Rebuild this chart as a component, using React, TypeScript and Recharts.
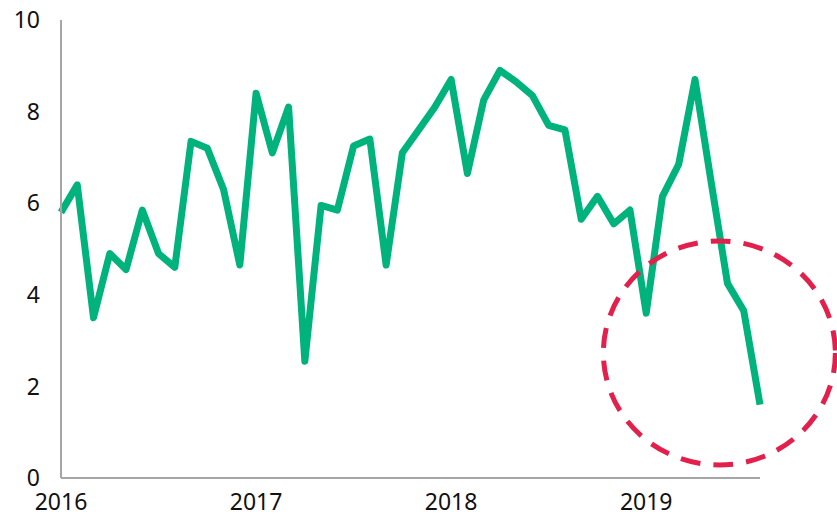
import { LineChart, Line, XAxis, YAxis, ReferenceDot } from 'recharts';

// monthly values, Jan 2016 .. Aug 2019
const values = [
  5.8, 6.4, 3.5, 4.9, 4.55, 5.85, 4.9, 4.6, 7.35, 7.2, 6.3, 4.65,
  8.4, 7.1, 8.1, 2.55, 5.95, 5.85, 7.25, 7.4, 4.65, 7.1, 7.6, 8.1,
  8.7, 6.65, 8.25, 8.9, 8.65, 8.35, 7.7, 7.6, 5.65, 6.15, 5.55, 5.85,
  3.6, 6.15, 6.85, 8.7, 6.45, 4.25, 3.65, 1.6,
];
const years = ['2016', '2017', '2018', '2019'];
const yTicks = [0, 2, 4, 6, 8, 10];
// highlighted region (month index, value)
const focusMonth = 40.5;
const focusValue = 2.73;

const data = values.map((v, i) => ({ m: i, v }));
const yearTicks = years.map((_, i) => i * 12);

const GREEN = '#00B27B';
const RED = '#E3204B';
const FONT = '"Noto Sans", "Open Sans", sans-serif';

const Ellipse = (props: any) => (
  <ellipse
    cx={props.cx}
    cy={props.cy}
    rx={116}
    ry={112}
    fill="none"
    stroke={RED}
    strokeWidth={5}
    strokeDasharray="20 13"
  />
);

export default function App() {
  return (
    <div style={{ position: 'absolute', left: 0, top: 0, width: 837, height: 516, background: '#fff' }}>
      <LineChart width={837} height={516} data={data} margin={{ top: 20, right: 77, bottom: 8, left: 11 }}>
        <XAxis
          dataKey="m"
          type="number"
          domain={[0, values.length - 1]}
          ticks={yearTicks}
          tickFormatter={(t: number) => years[t / 12]}
          axisLine={{ stroke: '#a6a6a6', strokeWidth: 2 }}
          tickLine={false}
          tickMargin={10}
          height={30}
          tick={{ fill: '#111', fontSize: 23, fontFamily: FONT }}
        />
        <YAxis
          domain={[0, 10]}
          ticks={yTicks}
          width={50}
          axisLine={{ stroke: '#a6a6a6', strokeWidth: 2 }}
          tickLine={false}
          tickMargin={15}
          tick={{ fill: '#111', fontSize: 23, fontFamily: FONT }}
        />
        <Line
          type="linear"
          dataKey="v"
          stroke={GREEN}
          strokeWidth={7}
          strokeLinejoin="round"
          strokeLinecap="butt"
          dot={false}
          activeDot={false}
          isAnimationActive={false}
        />
        <ReferenceDot x={focusMonth} y={focusValue} ifOverflow="visible" shape={Ellipse} />
      </LineChart>
    </div>
  );
}
